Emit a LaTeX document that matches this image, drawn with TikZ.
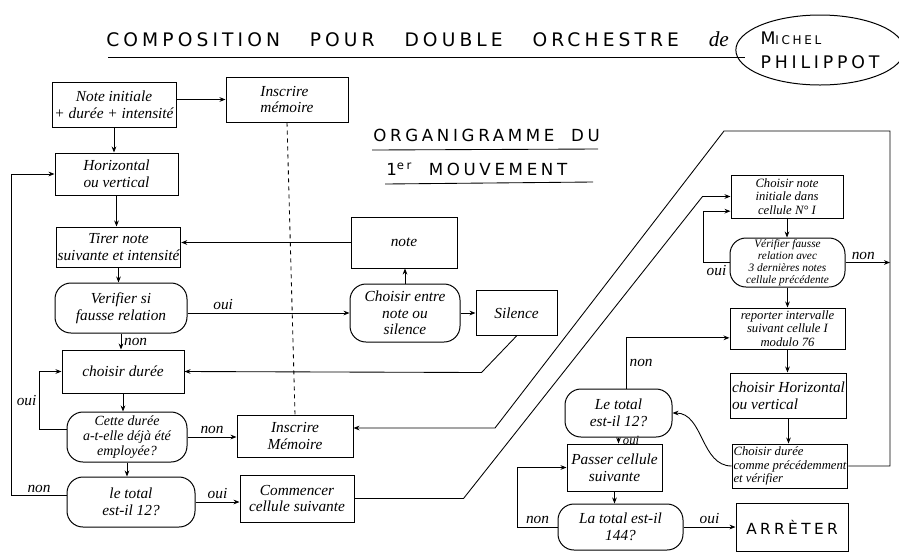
\documentclass[tikz,border=0pt]{standalone}
\usepackage{fontspec}
\setmainfont{Liberation Serif}
\newfontfamily\capsfont[LetterSpace=22]{DejaVu Sans}
\usepackage{tikz}
\usetikzlibrary{positioning,arrows.meta,shapes.geometric}
\newcommand{\hand}{\itshape\fontsize{11.5}{12.5}\selectfont}
\newcommand{\handmd}{\itshape\fontsize{10.5}{11}\selectfont}
\newcommand{\handsm}{\itshape\fontsize{9.5}{10}\selectfont}
\newcommand{\handxs}{\itshape\fontsize{8.5}{8.9}\selectfont}
\begin{document}
\begin{tikzpicture}[x=0.75pt, y=-0.75pt,
  box/.style={draw, line width=0.75pt, align=center, inner sep=1pt, font=\hand},
  rbox/.style={box, rounded corners=12pt},
  sz/.style 2 args={minimum width=#1*0.75pt, minimum height=#2*0.75pt},
  ar/.style={-{Stealth[length=4.5pt,width=3.5pt]}, line width=0.65pt},
  ln/.style={line width=0.65pt},
  lab/.style={font=\hand, inner sep=2pt}
]
\useasboundingbox (0,0) rectangle (899,551);

% en-tete
\node[font=\capsfont\fontsize{14}{16}\selectfont, anchor=base west, inner sep=0pt] (titre) at (106,46)
  {\hbox to 467pt{COMPOSITION\hfill POUR\hfill DOUBLE\hfill ORCHESTRE\hfill {\normalfont\itshape\fontsize{16}{17}\selectfont de}}};
\node[ellipse, draw, line width=0.75pt, sz={154}{70}, inner sep=0pt, align=left,
  font=\capsfont\fontsize{13}{18}\selectfont] (auteur) at (820,50) {M{\small ICHEL}\\ PHILIPPOT};
\draw[ln] (108,57) -- (745,57);
\node[font=\capsfont\fontsize{12.5}{14}\selectfont, anchor=base west, inner sep=0pt] (orga) at (373,141) {ORGANIGRAMME\quad DU};
\node[font=\capsfont\fontsize{12.5}{14}\selectfont, anchor=base west, inner sep=0pt] (mouv) at (386,175) {1\textsuperscript{er}\quad MOUVEMENT};
\draw[ln] (372,150) -- (598,149);
\draw[ln] (385,184) -- (593,182);

% colonne gauche
\node[box, sz={124}{45}] (init) at (114,104.5) {Note initiale\\+ durée + intensité};
\node[box, sz={122}{45}, align=left] (mem1) at (287,99.5) {Inscrire\\mémoire};
\node[box, sz={123}{42}] (horiz) at (116.5,174) {Horizontal\\ou vertical};
\node[box, sz={123}{40}] (tirer) at (118.5,247) {Tirer note\\suivante et intensité};
\node[rbox, sz={132}{50}] (verif) at (121,308) {Verifier si\\fausse relation};
\node[box, sz={122}{43}] (duree) at (123,371.5) {choisir durée};
\node[rbox, sz={120}{50}, font=\handmd] (deja) at (127,437) {Cette durée\\a-t-elle déjà été\\employée?};
\node[rbox, sz={128}{50}] (total) at (131,502) {le total\\est-il 12?};
\node[box, sz={116}{42}] (mem2) at (295,436) {Inscrire\\Mémoire};
\node[box, sz={114}{47}] (commencer) at (297,498.5) {Commencer\\cellule suivante};

% note ou silence
\node[box, sz={106}{51}] (note) at (404,242.5) {note};
\node[rbox, sz={110}{58}] (choix) at (405,313) {Choisir entre\\note ou\\silence};
\node[box, sz={81}{45}, right=11.25pt of choix] (silence) {Silence};

% colonne droite
\node[box, sz={112}{43}, font=\handsm] (cellule) at (787,196.5) {Choisir note\\initiale dans\\cellule N° I};
\node[rbox, sz={115}{49}, font=\handxs] (verif3) at (787.5,262.5) {Vérifier fausse\\relation avec\\3 dernières notes\\cellule précédente};
\node[box, sz={115}{41}, font=\handsm] (report) at (787.5,328.5) {reporter intervalle\\suivant cellule I\\modulo 76};
\node[box, sz={113}{45}, align=left] (horiz2) at (788.5,395.5) {choisir Horizontal\\ou vertical};
\node[box, sz={114}{44}, font=\handsm, align=left] (duree2) at (790,466) {Choisir durée\\comme précédemment\\et vérifier};
\node[rbox, sz={107}{48}] (total2) at (618.5,413) {Le total\\est-il 12?};
\node[box, sz={95}{47}] (passer) at (614.5,467.5) {Passer cellule\\suivante};
\node[rbox, sz={125}{46}] (total3) at (620.5,527) {La total est-il\\144?};
\node[box, sz={112}{48}, right=39pt of total3, font=\capsfont\fontsize{11.5}{13}\selectfont] (arret) {ARRÈTER};

\coordinate (haut) at (890,131);
\coordinate (coude) at (724,131);
\coordinate (pied) at (495,428);

% liaisons
\draw[ar] (init.east |- mem1.west) -- (mem1.west);
\draw[ln, dashed] (mem1.south) -- (mem2.north);
\draw[ar] (init.south) -- (init.south |- horiz.north);
\draw[ar] (horiz.south) -- (horiz.south |- tirer.north);
\draw[ar] (tirer.south) -- (tirer.south |- verif.north);
\draw[ar] (verif.east |- choix.west) -- node[above, pos=0.22, lab]{oui} (choix.west);
\draw[ar] (verif.south) -- node[right, lab]{non} (verif.south |- duree.north);
\draw[ar] (duree.south) -- (duree.south |- deja.north);
\draw[ar] (deja.south) -- (deja.south |- total.north);
\draw[ar] ([yshift=6pt]deja.west) -- ++(-27,0) |- node[left, pos=0.25, lab]{oui} (duree.west);
\draw[ar] ([yshift=5pt]total.west) -- node[above, lab]{non} ++(-55,0) |- (horiz.west);
\draw[ar] (deja.east) -- node[above, lab]{non} (deja.east -| mem2.west);
\draw[ar] (total.east) -- node[above, lab]{oui} (total.east -| commencer.west);
\draw[ar] (choix.north) -- (choix.north |- note.south);
\draw[ar] (note.west) -- (note.west -| tirer.east);
\draw[ar] (choix.east) -- (silence.west);
\draw[ar] (silence.south) -- ++(-35,36.5) -- (duree.east);
\draw[ar] (commencer.east) -- ++(109,0) -- ++(239,-302) -- (cellule.west);
\draw[ar] (cellule.south) -- (cellule.south |- verif3.north);
\draw[ar] (verif3.west) -- node[below, lab]{oui} ++(-26,0) |- ([yshift=-11pt]cellule.west);
\draw[ar] (verif3.east) -- node[above, pos=0.4, lab]{non} (verif3.east -| haut);
\draw[ar] (verif3.south) -- (verif3.south |- report.north);
\draw[ar] (report.south) -- (report.south |- horiz2.north);
\draw[ar] (horiz2.south) -- (horiz2.south |- duree2.north);
\draw[ar] (duree2.east) -| (haut) -- (coude) -- (pied) -- (pied -| mem2.east);
\draw[ar] (duree2.west) to[out=180, in=0] (total2.east);
\draw[ar] ([xshift=6pt]total2.north) |- node[right, pos=0.25, lab]{non} ([yshift=-7pt]report.west);
\draw[ar] (total2.south) -- node[right, xshift=2pt, font=\handsm, inner sep=1pt]{oui} (total2.south |- passer.north);
\draw[ar] (passer.south) -- (passer.south |- total3.north);
\draw[ar] (total3.west) -- node[above, lab]{non} ++(-40,0) |- (passer.west);
\draw[ar] (total3.east) -- node[above, lab]{oui} (arret.west);
\end{tikzpicture}
\end{document}
